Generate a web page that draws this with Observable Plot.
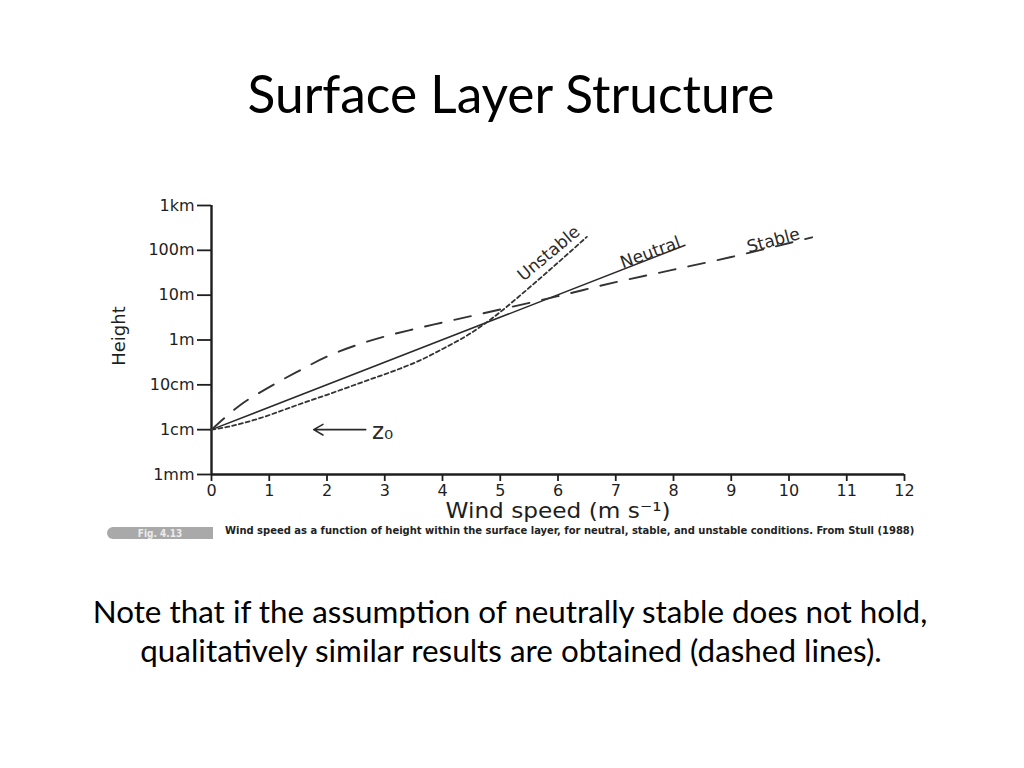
<!DOCTYPE html>
<html>
<head>
<meta charset="utf-8">
<script src="https://cdn.jsdelivr.net/npm/d3@7"></script>
<script src="https://cdn.jsdelivr.net/npm/@observablehq/plot@0.6"></script>
<style>
  html, body { margin: 0; padding: 0; background: #fff; }
  #page { position: relative; width: 1024px; height: 768px; background: #fff; overflow: hidden; }
  #deco { position: absolute; left: 0; top: 0; }
  #chart { position: absolute; left: 0; top: 190px; }
</style>
</head>
<body>
<div id="page">
  <svg id="deco" width="1024" height="768">
    <text id="title" x="511" y="113" text-anchor="middle" font-family="Lato, 'Open Sans', sans-serif" font-size="52" fill="#000">Surface Layer Structure</text>
    <rect x="107" y="527" width="106" height="12" rx="6" fill="#a9a9a9"></rect>
    <rect x="150" y="527" width="63" height="12" fill="#a9a9a9"></rect>
    <text x="160" y="536.5" text-anchor="middle" font-family="'DejaVu Sans Condensed', 'DejaVu Sans', sans-serif" font-weight="bold" font-size="10" fill="#ececec">Fig. 4.13</text>
    <text id="cap" x="225" y="534" font-family="'Liberation Sans Narrow', 'DejaVu Sans Condensed', sans-serif" font-weight="bold" font-size="11" fill="#222">Wind speed as a function of height within the surface layer, for neutral, stable, and unstable conditions. From Stull (1988)</text>
    <text id="note1" x="510" y="623" text-anchor="middle" font-family="Lato, 'Open Sans', sans-serif" font-size="27" fill="#000">Note that if the assumption of neutrally stable does not hold,</text>
    <text id="note2" x="511" y="662" text-anchor="middle" font-family="Lato, 'Open Sans', sans-serif" font-size="27" fill="#000">qualitatively similar results are obtained (dashed lines).</text>
  </svg>
  <div id="chart"></div>
</div>
<script>
// ---- tick values and labels ----
const speedTicks = [0, 1, 2, 3, 4, 5, 6, 7, 8, 9, 10, 11, 12];
const heightTicks = [0.001, 0.01, 0.1, 1, 10, 100, 1000];
const heightLabels = ["1mm", "1cm", "10cm", "1m", "10m", "100m", "1km"];

// ---- profiles: wind speed (m/s) and height (m) ----
const neutralSpeed = [0, 8.2];
const neutralHeight = [0.01, 130];

const stableSpeed = [0, 0.5, 1, 1.5, 2, 2.5, 3, 3.5, 4, 5, 6, 7, 8, 9, 10.4];
const stableHeight = [0.01, 0.0355, 0.089, 0.2, 0.427, 0.76, 1.2, 1.74, 2.45, 4.8, 9.5, 19.5, 37, 71, 195];

const unstableSpeed = [0, 0.3, 0.8, 1.5, 2, 2.7, 3.2, 3.6, 4, 4.5, 5, 5.35, 5.8, 6.5];
const unstableHeight = [0.01, 0.0117, 0.0174, 0.036, 0.06, 0.126, 0.214, 0.347, 0.63, 1.45, 4.2, 10, 31.6, 200];

// ---- curve labels ----
const curveNames = ["Unstable", "Neutral", "Stable"];
const curveLabelSpeed = [5.84, 7.6, 9.73];
const curveLabelHeight = [85, 89, 166];
const curveLabelAngle = [-40, -20, -15];

// ---- roughness length annotation ----
const z0ArrowFrom = [2.67];
const z0ArrowTo = [1.77];
const z0Height = [0.01];
const z0LabelSpeed = [2.78];
const z0Text = ["z\u2080"];

const xLabel = "Wind speed (m s\u207B\u00B9)";
const yLabel = "Height";

const toRows = (us, zs) => us.map((u, i) => ({u, z: zs[i]}));
const neutral = toRows(neutralSpeed, neutralHeight);
const stable = toRows(stableSpeed, stableHeight);
const unstable = toRows(unstableSpeed, unstableHeight);
const labels = curveNames.map((name, i) => ({name, u: curveLabelSpeed[i], z: curveLabelHeight[i], a: curveLabelAngle[i]}));
const arrows = z0ArrowFrom.map((u, i) => ({u1: u, u2: z0ArrowTo[i], z: z0Height[i], lu: z0LabelSpeed[i], t: z0Text[i]}));

const ink = "#1e1e1e";

const chart = Plot.plot({
  width: 1024,
  height: 334,
  marginLeft: 211,
  marginRight: 120,
  marginTop: 15,
  marginBottom: 50,
  style: {fontFamily: "'DejaVu Sans', sans-serif", fontSize: "16px", color: ink, background: "transparent", overflow: "visible"},
  x: {domain: [0, 12]},
  y: {type: "log", domain: [0.001, 1000]},
  marks: [
    Plot.axisX({ticks: speedTicks, tickSize: 7, tickPadding: 3, tickFormat: d => String(d), label: null, strokeWidth: 1.8, fontSize: 16, letterSpacing: "0.5px"}),
    Plot.axisY({ticks: heightTicks, tickSize: 14, tickPadding: 3, tickFormat: d => heightLabels[heightTicks.indexOf(d)], label: null, strokeWidth: 1.8, fontSize: 16, letterSpacing: "1.5px"}),
    Plot.ruleX([0], {y1: 0.001, y2: 1000, stroke: ink, strokeWidth: 2.4}),
    Plot.ruleY([0.001], {x1: 0, x2: 12, stroke: ink, strokeWidth: 2.4}),
    Plot.line(neutral, {x: "u", y: "z", stroke: "#2a2a2a", strokeWidth: 1.5}),
    Plot.line(stable, {x: "u", y: "z", stroke: "#333", strokeWidth: 1.9, strokeDasharray: "17,13", curve: "monotone-x"}),
    Plot.line(unstable, {x: "u", y: "z", stroke: "#333", strokeWidth: 1.8, strokeDasharray: "4,3", curve: "monotone-x"}),
    Plot.text(labels, {x: "u", y: "z", text: "name", rotate: "a", fontSize: 17, fill: "#2a2a2a", textAnchor: "middle", lineAnchor: "middle", letterSpacing: "0.8px"}),
    Plot.arrow(arrows, {x1: "u1", x2: "u2", y1: "z", y2: "z", stroke: "#2a2a2a", strokeWidth: 1.6, headLength: 10}),
    Plot.text(arrows, {x: "lu", y: "z", text: "t", textAnchor: "start", lineAnchor: "middle", fontSize: 23, dy: 2, fill: "#2a2a2a"}),
    Plot.text([xLabel], {frameAnchor: "bottom", dy: 37, fontSize: 21, textAnchor: "middle", lineAnchor: "middle", fill: ink}),
    Plot.text([yLabel], {frameAnchor: "left", dx: -92, dy: -4, rotate: -90, fontSize: 18, textAnchor: "middle", lineAnchor: "middle", fill: ink})
  ]
});
document.getElementById("chart").appendChild(chart);

// stretch the axis label to the width it has in the figure
chart.querySelectorAll("text").forEach(t => {
  if (t.textContent === xLabel) {
    t.setAttribute("textLength", 225);
    t.setAttribute("lengthAdjust", "spacingAndGlyphs");
  }
});

// fit slide texts to their widths
function fit(id, target) {
  const el = document.getElementById(id);
  const fs = parseFloat(el.getAttribute("font-size"));
  const w = el.getComputedTextLength();
  const nfs = fs * target / w;
  el.setAttribute("font-size", nfs);
  return nfs;
}
fit("title", 527);
const noteSize = fit("note1", 835);
document.getElementById("note2").setAttribute("font-size", noteSize);
fit("cap", 690);
</script>
</body>
</html>
